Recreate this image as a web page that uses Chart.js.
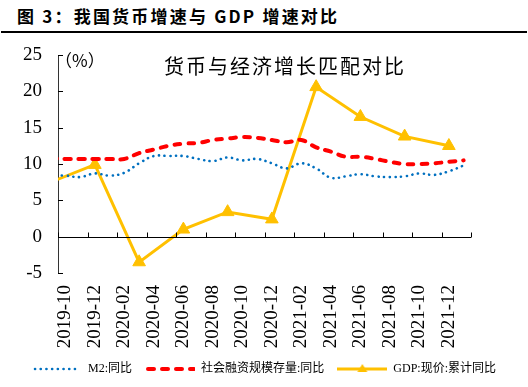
<!DOCTYPE html>
<html>
<head>
<meta charset="utf-8">
<script src="https://cdn.jsdelivr.net/npm/chart.js@4/dist/chart.umd.min.js"></script>
<style>
    html, body { margin: 0; padding: 0; background: #fff; }
    body { width: 528px; height: 387px; position: relative; overflow: hidden; }
    #title {
        position: absolute; left: 17px; top: 3px;
        font-family: "Noto Sans CJK SC", sans-serif; font-weight: bold;
        font-size: 17px; letter-spacing: 2.2px; color: #000; white-space: nowrap;
    }
    #rule { position: absolute; left: 1px; top: 31px; width: 526px; height: 2px; background: #000; }
    #wrap { position: absolute; left: 0; top: 34px; width: 528px; height: 353px; }
</style>
</head>
<body>
<div id="title">图 3：我国货币增速与 GDP 增速对比</div>
<div id="rule"></div>
<div id="wrap"><canvas id="chart" width="528" height="353"></canvas></div>

<script>
// Monthly categories (2019-09 sits just left of the visible axis so lines run to the edge)
const months = [
    '2019-09', '2019-10', '2019-11', '2019-12',
    '2020-01', '2020-02', '2020-03', '2020-04', '2020-05', '2020-06',
    '2020-07', '2020-08', '2020-09', '2020-10', '2020-11', '2020-12',
    '2021-01', '2021-02', '2021-03', '2021-04', '2021-05', '2021-06',
    '2021-07', '2021-08', '2021-09', '2021-10', '2021-11', '2021-12',
    '2022-01'
];

const m2Yoy = [
    8.4, 8.4, 8.2, 8.7,
    8.4, 8.8, 10.1, 11.1, 11.1, 11.1, 10.7, 10.4, 10.9, 10.5, 10.7, 10.1,
    9.4, 10.1, 9.4, 8.1, 8.3, 8.6, 8.3, 8.2, 8.3, 8.7, 8.5, 9.0,
    9.8
];

const afreYoy = [
    10.8, 10.7, 10.7, 10.7,
    10.7, 10.7, 11.5, 12.0, 12.5, 12.8, 12.9, 13.3, 13.5, 13.7, 13.6, 13.3,
    13.0, 13.3, 12.3, 11.7, 11.0, 11.0, 10.7, 10.3, 10.0, 10.0, 10.1, 10.3,
    10.5
];

// Quarterly nominal GDP, cumulative yoy
const gdpYoy = [
    7.5, null, null, 9.9,
    null, null, -3.5, null, null, 1.0, null, null, 3.4, null, null, 2.4,
    null, null, 20.6, null, null, 16.5, null, null, 13.8, null, null, 12.5,
    null
];

const yTicks = [-5, 0, 5, 10, 15, 20, 25];

const seriesNames = ['M2:同比', '社会融资规模存量:同比', 'GDP:现价:累计同比'];
const COLORS = { m2: '#0070C0', afre: '#FF0000', gdp: '#FFC000' };

const SERIF = "'Liberation Serif', 'Times New Roman', serif";
const CJK = "'Liberation Serif', 'Noto Sans CJK SC', serif";

function legendSample(draw) {
    const c = document.createElement('canvas');
    c.width = 50;
    c.height = 14;
    draw(c.getContext('2d'));
    return c;
}

const legendSamples = [
    legendSample(g => {
        g.strokeStyle = COLORS.m2; g.lineWidth = 2.6; g.lineCap = 'round';
        g.setLineDash([0.1, 5.6]);
        g.beginPath(); g.moveTo(3, 7); g.lineTo(48, 7); g.stroke();
    }),
    legendSample(g => {
        g.strokeStyle = COLORS.afre; g.lineWidth = 4; g.lineCap = 'round';
        g.setLineDash([6, 8]);
        g.beginPath(); g.moveTo(3, 7); g.lineTo(49, 7); g.stroke();
    }),
    legendSample(g => {
        g.strokeStyle = COLORS.gdp; g.fillStyle = COLORS.gdp; g.lineWidth = 3;
        g.beginPath(); g.moveTo(0, 7); g.lineTo(50, 7); g.stroke();
        g.beginPath(); g.moveTo(25, 2); g.lineTo(30, 10); g.lineTo(20, 10); g.closePath(); g.fill();
    })
];

// Axis line at zero, inward tick marks, and the in-chart captions
const axisDecor = {
    id: 'axisDecor',
    afterDatasetsDraw(chart) {
        const { ctx, chartArea, scales: { x, y } } = chart;
        ctx.save();
        ctx.strokeStyle = '#000';
        ctx.lineWidth = 1;

        const y0 = Math.round(y.getPixelForValue(0)) + 0.5;
        ctx.beginPath();
        ctx.moveTo(chartArea.left, y0);
        ctx.lineTo(chartArea.right, y0);
        const step = x.getPixelForValue(2) - x.getPixelForValue(1);
        for (let k = 0; k <= 14; k++) {
            const px = Math.round(x.getPixelForValue(1 + 2 * k) - step / 2) + 0.5;
            ctx.moveTo(px, y0);
            ctx.lineTo(px, y0 - 5);
        }
        yTicks.forEach(v => {
            const py = Math.round(y.getPixelForValue(v)) + 0.5;
            ctx.moveTo(chartArea.left, py);
            ctx.lineTo(chartArea.left + 5, py);
        });
        ctx.stroke();

        ctx.fillStyle = '#000';
        ctx.textBaseline = 'middle';
        ctx.textAlign = 'left';
        ctx.font = "17px 'Noto Sans CJK SC', serif";
        ctx.fillText('（%）', chartArea.left - 3, chartArea.top + 6);

        ctx.font = "20px 'Noto Sans CJK SC', serif";
        if ('letterSpacing' in ctx) ctx.letterSpacing = '2px';
        ctx.fillText('货币与经济增长匹配对比', 164, chartArea.top + 11);
        ctx.restore();
    }
};

new Chart(document.getElementById('chart'), {
    type: 'line',
    data: {
        labels: months,
        datasets: [
            {
                label: seriesNames[0],
                data: m2Yoy,
                borderColor: COLORS.m2,
                borderWidth: 2.6,
                borderDash: [0.1, 5.6],
                borderCapStyle: 'round',
                pointRadius: 0,
                tension: 0.4
            },
            {
                label: seriesNames[1],
                data: afreYoy,
                borderColor: COLORS.afre,
                borderWidth: 4,
                borderDash: [6, 8],
                borderCapStyle: 'round',
                pointRadius: 0,
                tension: 0.4
            },
            {
                label: seriesNames[2],
                data: gdpYoy,
                borderColor: COLORS.gdp,
                backgroundColor: COLORS.gdp,
                borderWidth: 3,
                spanGaps: true,
                tension: 0,
                pointStyle: 'triangle',
                pointRadius: ctx => (ctx.dataIndex === 0 ? 0 : 7.3),
                pointBorderWidth: 1,
                pointBorderColor: COLORS.gdp,
                pointBackgroundColor: COLORS.gdp
            }
        ]
    },
    options: {
        responsive: false,
        animation: false,
        devicePixelRatio: 1,
        layout: { padding: { top: 21, left: 0, right: 0, bottom: 2 } },
        plugins: {
            tooltip: { enabled: false },
            title: { display: false },
            legend: {
                position: 'bottom',
                labels: {
                    usePointStyle: true,
                    pointStyleWidth: 50,
                    padding: 13,
                    color: '#000',
                    font: { family: CJK, size: 12 },
                    generateLabels: chart => chart.data.datasets.map((ds, i) => ({
                        text: ds.label,
                        pointStyle: legendSamples[i],
                        fontColor: '#000',
                        lineWidth: 0,
                        strokeStyle: 'transparent',
                        fillStyle: 'transparent',
                        hidden: false,
                        datasetIndex: i
                    }))
                }
            }
        },
        scales: {
            x: {
                type: 'category',
                min: '2019-10',
                max: '2022-01',
                offset: true,
                grid: { display: false, drawTicks: false },
                border: { display: false },
                afterFit: s => { s.height = 77; s.paddingLeft = 0; s.paddingRight = 0; },
                ticks: {
                    autoSkip: false,
                    minRotation: 90,
                    maxRotation: 90,
                    padding: 12,
                    color: '#000',
                    font: { family: SERIF, size: 19 },
                    callback: function (value, index) {
                        return index % 2 === 0 ? this.getLabelForValue(value) : '';
                    }
                }
            },
            y: {
                min: -5,
                max: 25,
                afterFit: s => { s.width = 58; s.paddingTop = 0; s.paddingBottom = 0; },
                grid: { display: false, drawTicks: false },
                border: { display: true, color: '#333', width: 1 },
                ticks: {
                    stepSize: 5,
                    padding: 16,
                    color: '#000',
                    font: { family: SERIF, size: 19 }
                }
            },
            yRight: {
                position: 'right',
                min: -5,
                max: 25,
                afterFit: s => { s.width = 57; s.paddingTop = 0; s.paddingBottom = 0; },
                grid: { display: false, drawTicks: false },
                border: { display: false },
                ticks: { display: false }
            }
        }
    },
    plugins: [axisDecor]
});
</script>
</body>
</html>
